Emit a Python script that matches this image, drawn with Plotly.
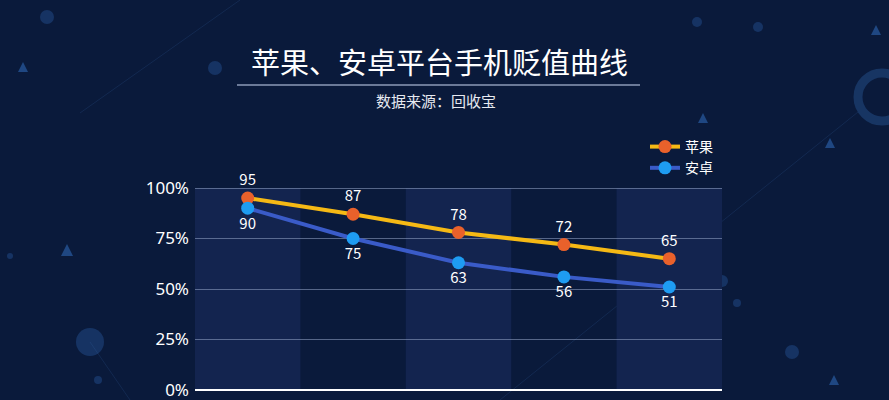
import plotly.graph_objects as go

# 数据（单位：%）
periods = ["第1期", "第2期", "第3期", "第4期", "第5期"]
apple_values = [95, 87, 78, 72, 65]
android_values = [90, 75, 63, 56, 51]
y_ticks = [0, 25, 50, 75, 100]
y_tick_labels = ["0%", "25%", "50%", "75%", "100%"]

BG = "#0a1a3b"
BAND = "#13244f"
FONT = "Noto Sans CJK SC"

# 绘图区像素位置 (889x400)
L, R, T, B = 195, 722, 187, 391
W, H = 889, 400


def px(x):
    return (x - L) / (R - L)


def py(y):
    return (B - y) / (B - T)


fig = go.Figure()

fig.add_trace(go.Scatter(
    x=periods, y=apple_values, name="苹果",
    mode="lines+markers+text",
    line=dict(color="#f5b915", width=4),
    marker=dict(color="#e9612b", size=13),
    text=[str(v) for v in apple_values],
    textposition="top center",
    textfont=dict(color="white", size=15, family=FONT),
    cliponaxis=False,
))
fig.add_trace(go.Scatter(
    x=periods, y=android_values, name="安卓",
    mode="lines+markers+text",
    line=dict(color="#3a5bc8", width=4),
    marker=dict(color="#1e9cf2", size=13),
    text=[str(v) for v in android_values],
    textposition="bottom center",
    textfont=dict(color="white", size=15, family=FONT),
    cliponaxis=False,
))

shapes = []
# 交替的列背景
for i in range(0, len(periods), 2):
    shapes.append(dict(type="rect", xref="x", yref="y", x0=i - 0.5, x1=i + 0.5,
                       y0=0, y1=100, fillcolor=BAND, line_width=0, layer="below"))

# 装饰：圆点
deco_color = "rgba(40,90,160,0.4)"
circles = [(47, 17, 7), (215, 68, 7), (10, 256, 3), (98, 380, 4), (697, 22, 5),
           (758, 27, 5), (737, 303, 4), (792, 352, 7), (722, 281, 6), (90, 342, 14)]
for cx, cy, r in circles:
    shapes.append(dict(type="circle", xref="paper", yref="paper",
                       x0=px(cx - r), x1=px(cx + r), y0=py(cy + r), y1=py(cy - r),
                       fillcolor=deco_color, line_width=0, layer="below"))
# 大圆环
shapes.append(dict(type="circle", xref="paper", yref="paper",
                   x0=px(882 - 24), x1=px(882 + 24), y0=py(97 + 24), y1=py(97 - 24),
                   fillcolor="rgba(30,70,130,0)", line=dict(color="rgba(35,80,140,0.5)", width=9),
                   layer="below"))
# 三角形
triangles = [(23, 67, 5), (67, 250, 6), (876, 30, 5), (830, 143, 5), (703, 118, 5), (834, 380, 5)]
for tx, ty, s in triangles:
    path = "M {} {} L {} {} L {} {} Z".format(px(tx), py(ty - s), px(tx - s), py(ty + s),
                                              px(tx + s), py(ty + s))
    shapes.append(dict(type="path", xref="paper", yref="paper", path=path,
                       fillcolor="rgba(50,110,190,0.55)", line_width=0, layer="below"))
# 细斜线
for x0, y0, x1, y1 in [(80, 113, 240, 0), (500, 400, 858, 112), (90, 342, 130, 400)]:
    shapes.append(dict(type="line", xref="paper", yref="paper",
                       x0=px(x0), y0=py(y0), x1=px(x1), y1=py(y1),
                       line=dict(color="rgba(60,110,180,0.18)", width=1), layer="below"))
# 标题下划线
shapes.append(dict(type="line", xref="paper", yref="paper",
                   x0=px(237), x1=px(640), y0=py(85), y1=py(85),
                   line=dict(color="#8d9bb8", width=1.5)))

fig.update_layout(
    width=W, height=H,
    margin=dict(l=L, r=W - R, t=T, b=H - B),
    paper_bgcolor=BG, plot_bgcolor=BG,
    font=dict(family=FONT, color="white"),
    shapes=shapes,
    showlegend=True,
    legend=dict(x=px(645), y=py(131), xanchor="left", yanchor="top",
                bgcolor="rgba(0,0,0,0)", font=dict(size=14, color="white", family=FONT),
                tracegroupgap=0),
    annotations=[
        dict(text="苹果、安卓平台手机贬值曲线", xref="paper", yref="paper",
             x=px(439), y=py(61), xanchor="center", yanchor="middle", showarrow=False,
             font=dict(size=29, color="white", family=FONT)),
        dict(text="数据来源：回收宝", xref="paper", yref="paper",
             x=px(436), y=py(101), xanchor="center", yanchor="middle", showarrow=False,
             font=dict(size=15, color="#e6e9f0", family=FONT)),
    ],
)
fig.update_xaxes(range=[-0.5, len(periods) - 0.5], showticklabels=False, showgrid=False,
                 zeroline=False, showline=False, ticks="")
fig.update_yaxes(range=[-0.5, 100.5], tickvals=y_ticks, ticktext=y_tick_labels,
                 showgrid=True, gridcolor="rgba(150,165,200,0.55)", gridwidth=1,
                 zeroline=True, zerolinecolor="white", zerolinewidth=2,
                 tickfont=dict(size=17, color="white", family="Noto Sans"),
                 ticks="", showline=False, automargin=False, ticklabeloverflow="allow",
                 ticklabelstandoff=5)

fig.write_html("out.html", config={"displayModeBar": False},
               post_script="document.body.style.margin='0';")
